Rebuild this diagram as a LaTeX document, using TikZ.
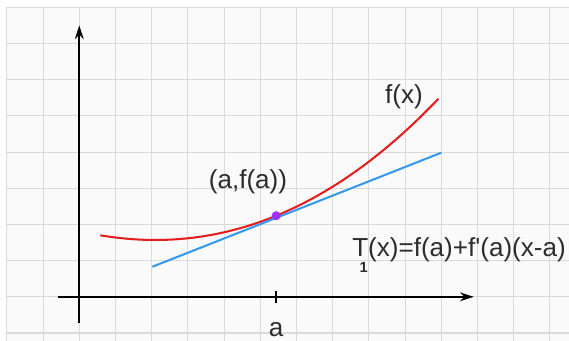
\documentclass[tikz,border=0pt]{standalone}
\usepackage{fontspec}
\setmainfont{Liberation Sans}
\usetikzlibrary{arrows.meta}
\definecolor{gridBg}{RGB}{250,250,250}
\definecolor{gridLine}{RGB}{218,218,218}
\definecolor{fnRed}{RGB}{228,28,28}
\definecolor{tanBlue}{RGB}{52,152,240}
\definecolor{ptPurple}{RGB}{155,50,255}
\definecolor{txtGray}{RGB}{45,45,45}

\begin{document}
\begin{tikzpicture}[
    axis/.style={line width=1.9pt, black, -{Stealth[length=3.8mm, width=2.4mm]}},
    curve/.style={line width=1.6pt, fnRed},
    tangent/.style={line width=1.6pt, tanBlue},
    lbl/.style={text=txtGray, inner sep=0pt, font=\fontsize{20.5}{24}\selectfont},
    every node/.style={inner sep=0pt}
]

% Background grid
\useasboundingbox (-2.19,-1.215) rectangle (13.53,8.2);
\fill[white] (-2.19,-1.215) rectangle (13.53,8.2);
\fill[gridBg] (-2,-1.215) rectangle (13.53,8);
\draw[gridLine, line width=0.8pt] (-2,-1.215) grid (13.53,8);

% Axes
\coordinate (xl) at (-0.58,0);
\coordinate (xr) at (10.9,0);
\coordinate (yb) at (0,-0.72);
\coordinate (yt) at (0,7.5);
\draw[axis] (xl) -- (xr);
\draw[axis] (yb) -- (yt);

% Tick at a
\coordinate (tkb) at (5.44,-0.17);
\coordinate (tkt) at (5.44,0.17);
\draw[line width=1.9pt] (tkb) -- (tkt);
\node[lbl] (alab) at (5.44,-0.91) {a};

% f(x) and the tangent line
\draw[curve] plot[domain=0.58:9.92, samples=60, smooth]
    (\x, {1.57 + 0.0572*(\x-2.1)^2 + 0.00084*(\x-2.1)^3});
\coordinate (ts) at (2.02,0.83);
\coordinate (te) at (10,3.98);
\draw[tangent] (ts) -- (te);

% Point (a,f(a))
\node[circle, fill=ptPurple, minimum size=2.5mm] (pt) at (5.44,2.24) {};

% Labels
\node[lbl] (plab) at (4.66,3.18) {(a,f(a))};
\node[lbl] (flab) at (8.97,5.52) {f(x)};
\node[lbl, anchor=west] (tlab) at (7.54,1.16)
    {T\kern-0.34em\raisebox{-0.6em}{\fontsize{11.5}{11}\selectfont\bfseries 1}\kern0.02em(x)=f(a)+f\textquotesingle(a)(x-a)};

\end{tikzpicture}
\end{document}
